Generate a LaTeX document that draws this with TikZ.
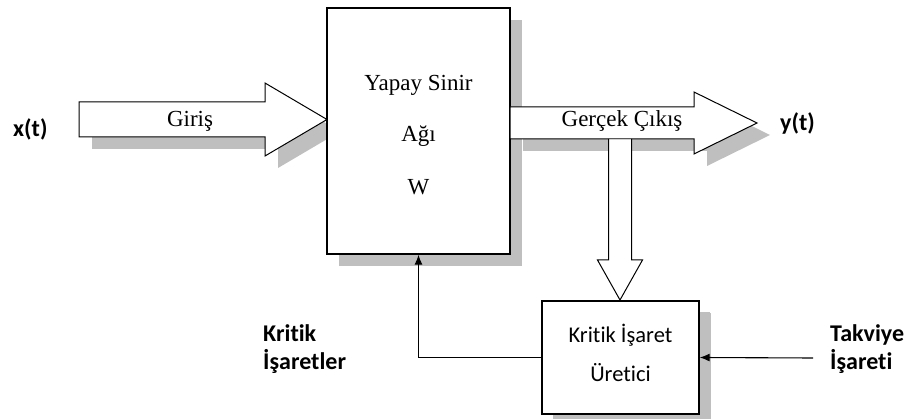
\documentclass[tikz,border=0pt]{standalone}
\usepackage{fontspec}
\setmainfont{Liberation Serif}
\newfontfamily\calibri[Ligatures=NoCommon]{Carlito}
\usetikzlibrary{arrows.meta,shadows}
\begin{document}
\begin{tikzpicture}[x=1pt,y=-1pt,
  blockbox/.style={draw,line width=1.4pt,fill=white,inner sep=0pt,
     drop shadow={shadow xshift=12pt,shadow yshift=-12pt,fill=black!25,opacity=1}},
  serif/.style={font=\fontsize{23}{27}\selectfont,inner sep=0pt,anchor=base},
  boldlabel/.style={font=\calibri\bfseries\fontsize{24}{28}\selectfont,inner sep=0pt,anchor=base west},
  plainlabel/.style={font=\calibri\fontsize{22.5}{27}\selectfont,inner sep=0pt,anchor=base},
  bigarrow/.style={draw,line width=1pt,fill=white,miter limit=20},
  arrowshadow/.style={fill=black!25},
  link/.style={line width=1.1pt,-{Latex[length=10pt,width=8pt]}}]

\useasboundingbox (0,0) rectangle (911,419);

% input block arrow with its shadow
\path[arrowshadow,shift={(13,12)}] (79,102) -- (265,102) -- (265,83) -- (327,119.5)
  -- (265,156) -- (265,137) -- (79,137) -- cycle;
\path[bigarrow] (79,102) -- (265,102) -- (265,83) -- (327,119.5)
  -- (265,156) -- (265,137) -- (79,137) -- cycle;

% neural network block
\node[blockbox,minimum width=183pt,minimum height=246pt] (ann) at (418.5,131) {};
\node[serif] (ann1) at (418.5,91) {Yapay Sinir};
\node[serif] (ann2) at (418.5,142) {Ağı};
\node[serif] (ann3) at (418.5,195) {W};

% output block arrow with its shadow
\path[arrowshadow,shift={(13,12)}] (510,107) -- (694,107) -- (694,92) -- (757,123)
  -- (694,154) -- (694,139) -- (510,139) -- cycle;
\path[bigarrow] (510,107) -- (694,107) -- (694,92) -- (757,123)
  -- (694,154) -- (694,139) -- (510,139) -- cycle;

% branch arrow down to the critic, open at the top
\fill[white] (608.5,139.5) -- (608.5,260) -- (597.5,260) -- (620,300) -- (642.5,260)
  -- (631.5,260) -- (631.5,139.5) -- cycle;
\draw[line width=1pt,miter limit=20] (608.5,139) -- (608.5,260) -- (597.5,260) -- (620,300)
  -- (642.5,260) -- (631.5,260) -- (631.5,139);

% critic block
\node[blockbox,minimum width=157pt,minimum height=113pt,
  drop shadow={shadow xshift=11pt,shadow yshift=-11pt,fill=black!25,opacity=1}] (kc) at (620.5,357.5) {};
\node[plainlabel] (kc1) at (620.5,343) {Kritik İşaret};
\node[plainlabel] (kc2) at (620.5,382) {Üretici};

% signal connectors
\draw[link] (kc.west) -| (ann.south);
\coordinate (tk) at (813,358);
\draw[link] (tk) -- (kc.east);

% labels
\node[serif] (giris) at (190,127) {Giriş};
\node[serif] (cikis) at (622,127) {Gerçek Çıkış};
\node[boldlabel] (xt) at (13,137) {x(t)};
\node[boldlabel] (yt) at (780,131) {y(t)};
\node[boldlabel] (ks1) at (263,342) {Kritik};
\node[boldlabel] (ks2) at (263,370) {İşaretler};
\node[boldlabel] (tv1) at (830,342) {Takviye};
\node[boldlabel] (tv2) at (830,370) {İşareti};
\end{tikzpicture}
\end{document}
